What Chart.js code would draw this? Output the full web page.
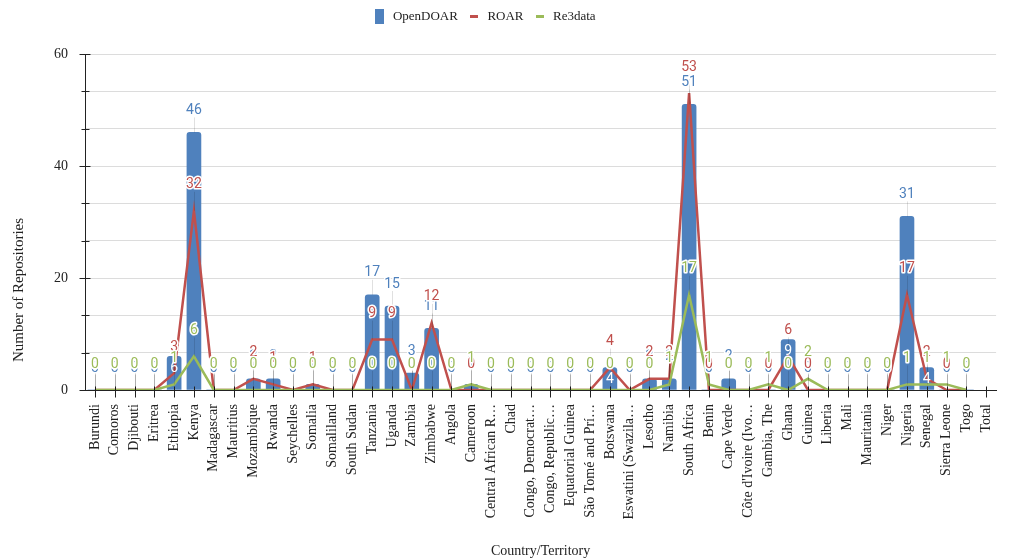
<!DOCTYPE html>
<html>
<head>
<meta charset="utf-8">
<script src="https://cdn.jsdelivr.net/npm/chart.js@4.4.1/dist/chart.umd.min.js"></script>
<style>
  html, body { margin: 0; padding: 0; background: #fff; }
  #wrap { width: 1009px; height: 560px; position: relative; }
</style>
</head>
<body>
<div id="wrap"><canvas id="chart"></canvas></div>
<script>
// categories (as truncated on the axis)
const countries = [
    'Burundi', 'Comoros', 'Djibouti', 'Eritrea', 'Ethiopia', 'Kenya', 'Madagascar', 'Mauritius',
    'Mozambique', 'Rwanda', 'Seychelles', 'Somalia', 'Somaliland', 'South Sudan', 'Tanzania',
    'Uganda', 'Zambia', 'Zimbabwe', 'Angola', 'Cameroon', 'Central African R…', 'Chad',
    'Congo, Democrat…', 'Congo, Republic…', 'Equatorial Guinea', 'São Tomé and Prí…', 'Botswana',
    'Eswatini (Swazila…', 'Lesotho', 'Namibia', 'South Africa', 'Benin', 'Cape Verde',
    'Côte d\'Ivoire (Ivo…', 'Gambia, The', 'Ghana', 'Guinea', 'Liberia', 'Mali', 'Mauritania',
    'Niger', 'Nigeria', 'Senegal', 'Sierra Leone', 'Togo', 'Total'
];

// series
const openDOAR = [0, 0, 0, 0, 6, 46, 0, 0, 2, 2, 0, 1, 0, 0, 17, 15, 3, 11, 0, 1, 0, 0, 0, 0, 0, 0, 4, 0, 2, 2, 51, 0, 2, 0, 0, 9, 0, 0, 0, 0, 0, 31, 4, 0, 0, null];
const roar     = [0, 0, 0, 0, 3, 32, 0, 0, 2, 1, 0, 1, 0, 0, 9, 9, 0, 12, 0, 0, 0, 0, 0, 0, 0, 0, 4, 0, 2, 2, 53, 0, 0, 0, 0, 6, 0, 0, 0, 0, 0, 17, 2, 0, 0, null];
const re3data  = [0, 0, 0, 0, 1, 6, 0, 0, 0, 0, 0, 0, 0, 0, 0, 0, 0, 0, 0, 1, 0, 0, 0, 0, 0, 0, 0, 0, 0, 1, 17, 1, 0, 0, 1, 0, 2, 0, 0, 0, 0, 1, 1, 1, 0, null];

// y axis: labelled ticks (grid is split in thirds between them)
const yTickLabels = [0, 20, 40, 60];
const yTitle = 'Number of Repositories';

const BLUE = '#4F81BD', RED = '#C0504D', GREEN = '#9BBB59';
const SERIF = "'Liberation Serif', 'Times New Roman', serif";

Chart.defaults.font.family = SERIF;
Chart.defaults.font.size = 14;
Chart.defaults.color = '#222';

// petites vignettes pour la légende
function swatch(w, h, color) {
    const c = document.createElement('canvas');
    c.width = w; c.height = h;
    const g = c.getContext('2d');
    g.fillStyle = color;
    g.fillRect(0, 0, w, h);
    return c;
}
const legendIcons = [swatch(9, 15, BLUE), swatch(8, 3, RED), swatch(8, 3, GREEN)];

// legend takes the whole band above the plot, a bit left of centre
const legendBand = {
    id: 'legendBand',
    beforeInit(chart) {
        const fit = chart.legend.fit;
        chart.legend.fit = function () {
            fit.call(this);
            this.height = 54;
        };
    },
    afterLayout(chart) {
        chart.legend.right -= 40;
    }
};

// tick marks crossing both axes + the vertical axis title
const axisTicks = {
    id: 'axisTicks',
    afterDatasetsDraw(chart) {
        const { ctx, chartArea, scales: { x, y } } = chart;
        ctx.save();
        ctx.strokeStyle = '#222';
        ctx.lineWidth = 1;
        ctx.beginPath();
        const left = Math.round(chartArea.left) + 0.5;
        y.ticks.forEach(t => {
            const py = Math.round(y.getPixelForValue(t.value)) + 0.5;
            const major = yTickLabels.some(v => Math.abs(v - t.value) < 1e-6);
            ctx.moveTo(left - (major ? 6 : 4), py);
            ctx.lineTo(left + (major ? 5 : 4), py);
        });
        const bottom = Math.round(chartArea.bottom) + 0.5;
        countries.forEach((c, i) => {
            const px = Math.round(x.getPixelForValue(i)) + 0.5;
            ctx.moveTo(px, bottom - 4);
            ctx.lineTo(px, bottom + 7);
        });
        ctx.stroke();

        ctx.translate(19, 290);
        ctx.rotate(-Math.PI / 2);
        ctx.font = '15px ' + SERIF;
        ctx.fillStyle = '#222';
        ctx.textAlign = 'center';
        ctx.textBaseline = 'middle';
        ctx.fillText(yTitle, 0, 0);
        ctx.restore();
    }
};

// value annotations above each point (bar label goes inside when it clashes)
const annotations = {
    id: 'annotations',
    afterDatasetsDraw(chart) {
        const { ctx, scales: { x, y } } = chart;
        const series = [
            { data: openDOAR, color: BLUE, lift: 22, bar: true },
            { data: roar, color: RED, lift: 26 },
            { data: re3data, color: GREEN, lift: 26 }
        ];
        const zero = y.getPixelForValue(0);
        const marks = [];
        countries.forEach((c, i) => {
            const lineLabels = series.slice(1)
                .filter(s => s.data[i] != null)
                .map(s => ({ v: s.data[i], y: y.getPixelForValue(s.data[i]) - s.lift }));
            series.forEach((s, k) => {
                const v = s.data[i];
                if (v == null) return;
                const py = y.getPixelForValue(v);
                let ly = py - s.lift, inside = false;
                if (s.bar) {
                    const clash = lineLabels.some(l => l.v <= v && Math.abs(l.y - ly) < 20);
                    if (clash && zero - py >= 20) { ly = py + 12; inside = true; }
                }
                marks.push({ k, x: x.getPixelForValue(i), py, ly, v, inside, color: s.color });
            });
        });

        ctx.save();
        // stems
        ctx.strokeStyle = 'rgba(0,0,0,0.12)';
        ctx.lineWidth = 1;
        marks.forEach(m => {
            if (m.inside) return;
            ctx.beginPath();
            ctx.moveTo(Math.round(m.x) + 0.5, m.ly + 7);
            ctx.lineTo(Math.round(m.x) + 0.5, m.py);
            ctx.stroke();
        });
        // texts
        ctx.font = '14px Roboto';
        ctx.textAlign = 'center';
        ctx.textBaseline = 'middle';
        ctx.lineJoin = 'round';
        marks.sort((a, b) => a.k - b.k).forEach(m => {
            const t = String(m.v);
            if (m.inside) {
                ctx.fillStyle = '#fff';
                ctx.fillText(t, m.x, m.ly);
                return;
            }
            ctx.strokeStyle = '#fff';
            ctx.lineWidth = 3;
            ctx.strokeText(t, m.x, m.ly);
            ctx.fillStyle = m.color;
            ctx.fillText(t, m.x, m.ly);
        });
        ctx.restore();
    }
};

new Chart(document.getElementById('chart').getContext('2d'), {
    type: 'bar',
    data: {
        labels: countries,
        datasets: [
            {
                type: 'bar',
                label: 'OpenDOAR',
                data: openDOAR,
                backgroundColor: BLUE,
                barThickness: 14,
                borderRadius: { topLeft: 3, topRight: 3 },
                borderSkipped: 'bottom',
                order: 3
            },
            {
                type: 'line',
                label: 'ROAR',
                data: roar,
                borderColor: RED,
                backgroundColor: RED,
                borderWidth: 2.5,
                pointRadius: 0,
                tension: 0,
                order: 2
            },
            {
                type: 'line',
                label: 'Re3data',
                data: re3data,
                borderColor: GREEN,
                backgroundColor: GREEN,
                borderWidth: 2.5,
                pointRadius: 0,
                tension: 0,
                order: 1
            }
        ]
    },
    options: {
        responsive: true,
        maintainAspectRatio: false,
        animation: false,
        layout: { padding: 0 },
        plugins: {
            tooltip: { enabled: false },
            legend: {
                position: 'top',
                labels: {
                    usePointStyle: true,
                    padding: 10,
                    font: { size: 13, family: SERIF },
                    color: '#222',
                    generateLabels: chart => chart.data.datasets.map((ds, i) => ({
                        text: ds.label,
                        pointStyle: legendIcons[i],
                        fillStyle: ds.backgroundColor,
                        strokeStyle: 'transparent',
                        lineWidth: 0,
                        hidden: false,
                        datasetIndex: i,
                        fontColor: '#222'
                    }))
                }
            }
        },
        scales: {
            x: {
                offset: true,
                grid: { display: false },
                border: { color: '#222', width: 1 },
                ticks: { autoSkip: false, maxRotation: 90, minRotation: 90, padding: 6, color: '#222', font: { size: 14 } },
                title: { display: true, text: 'Country/Territory', color: '#222', font: { size: 14 }, padding: { top: 0, bottom: 0 } },
                afterFit: s => { s.height = 170; }
            },
            y: {
                min: 0,
                max: 60,
                grid: { color: '#dcdcdc', drawTicks: false },
                border: { color: '#222', width: 1 },
                ticks: {
                    stepSize: 20 / 3,
                    padding: 17,
                    color: '#222',
                    font: { size: 14 },
                    callback: v => {
                        const hit = yTickLabels.find(t => Math.abs(t - v) < 1e-6);
                        return hit === undefined ? '' : String(hit);
                    }
                },
                afterFit: s => { s.width = 85; }
            }
        }
    },
    plugins: [legendBand, axisTicks, annotations]
});
</script>
</body>
</html>
